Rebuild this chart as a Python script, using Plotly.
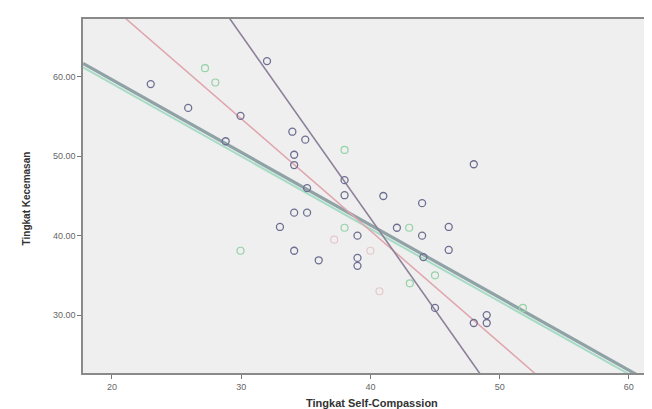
import plotly.graph_objects as go

# ---- data ----
dark_x = [23.0, 25.9, 28.8, 29.95, 32.0, 33.96, 34.96, 34.1, 34.1, 35.1, 38.0, 38.0,
          34.1, 35.1, 33.0, 41.0, 44.0, 39.0, 42.05, 46.06, 44.0, 46.06, 44.1, 39.0,
          39.0, 34.1, 36.0, 45.0, 48.0, 49.0, 49.0, 48.0]
dark_y = [59.1, 56.1, 51.9, 55.1, 62.0, 53.1, 52.1, 50.2, 48.9, 46.0, 47.0, 45.1,
          42.9, 42.9, 41.1, 45.0, 44.1, 40.0, 41.0, 41.1, 40.0, 38.2, 37.3, 37.2,
          36.2, 38.1, 36.9, 30.9, 29.0, 30.0, 29.0, 49.0]

green_x = [27.2, 28.0, 38.0, 29.95, 38.0, 43.0, 43.05, 45.0, 51.8]
green_y = [61.1, 59.3, 50.8, 38.1, 41.0, 41.0, 34.0, 35.0, 30.9]

pink_x = [40.0, 40.7, 37.2]
pink_y = [38.1, 33.0, 39.5]

# fit lines: (intercept, slope)
fit_names = ["Total", "Hijau", "Merah", "Ungu"]
fit_intercepts = [77.95, 77.45, 97.1, 134.6]
fit_slopes = [-0.915, -0.915, -1.412, -2.31]

x_range = [17.76, 62.1]
y_range = [22.7, 67.3]
x_ticks = [20, 30, 40, 50, 60]
y_ticks = [30, 40, 50, 60]
y_tick_text = ["30.00", "40.00", "50.00", "60.00"]

# ---- styles ----
fit_colors = ["#8fa3a6", "#a6dcc6", "#e0a4ad", "#8c8198"]
fit_widths = [3.2, 2.0, 1.5, 1.6]

fig = go.Figure()

for name, b0, b1, c, w in zip(fit_names, fit_intercepts, fit_slopes, fit_colors, fit_widths):
    xs = x_range
    ys = [b0 + b1 * v for v in xs]
    fig.add_trace(go.Scatter(x=xs, y=ys, mode="lines", name=name,
                             line=dict(color=c, width=w), hoverinfo="skip"))

fig.add_trace(go.Scatter(x=pink_x, y=pink_y, mode="markers", name="pink",
                         marker=dict(symbol="circle-open", size=7,
                                     color="#e6c8cc", line=dict(width=1.2))))
fig.add_trace(go.Scatter(x=green_x, y=green_y, mode="markers", name="green",
                         marker=dict(symbol="circle-open", size=7,
                                     color="#96d2a8", line=dict(width=1.2))))
fig.add_trace(go.Scatter(x=dark_x, y=dark_y, mode="markers", name="dark",
                         marker=dict(symbol="circle-open", size=7,
                                     color="#6e6e92", line=dict(width=1.3))))

axis_common = dict(showgrid=False, zeroline=False, ticks="outside", ticklen=4,
                   tickcolor="#777777", tickwidth=1,
                   tickfont=dict(family="Liberation Sans, Arial", size=9, color="#666666"),
                   showline=True, linecolor="#8a8a8a", linewidth=1.5, mirror=True)

fig.update_layout(
    width=652, height=409,
    margin=dict(l=75, r=2, t=11, b=44),
    paper_bgcolor="#ffffff",
    plot_bgcolor="#efefef",
    showlegend=False,
    xaxis=dict(range=x_range, tickvals=x_ticks, **axis_common),
    yaxis=dict(range=y_range, tickvals=y_ticks, ticktext=y_tick_text, **axis_common),
    annotations=[
        dict(text="<b>Tingkat Self-Compassion</b>", xref="paper", yref="paper",
             x=0.504, y=-0.085, xanchor="center", yanchor="middle", showarrow=False,
             font=dict(family="Liberation Sans, Arial", size=11, color="#333333")),
        dict(text="<b>Tingkat Kecemasan</b>", xref="paper", yref="paper",
             x=-0.099, y=0.494, xanchor="center", yanchor="middle", showarrow=False,
             textangle=-90,
             font=dict(family="Liberation Sans, Arial", size=10, color="#333333")),
    ],
)

fig.write_html("out.html")
